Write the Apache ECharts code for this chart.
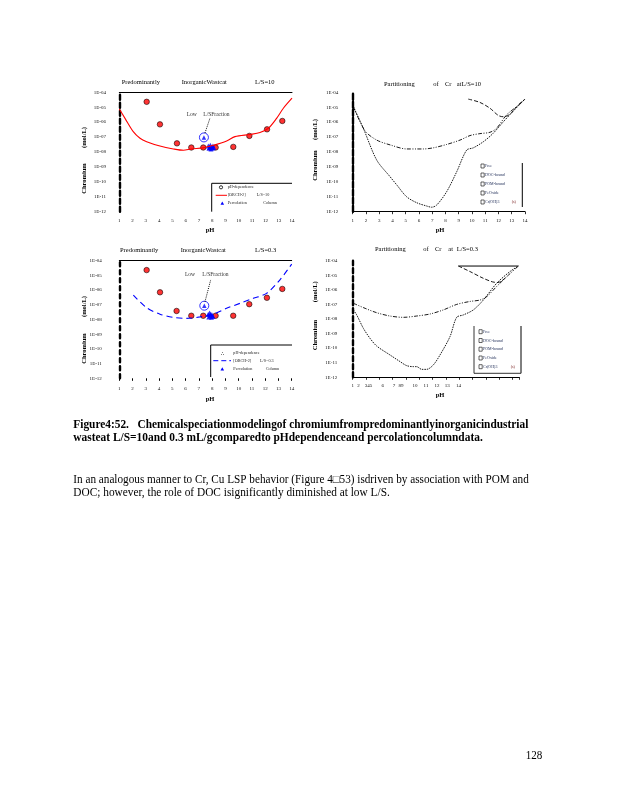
<!DOCTYPE html>
<html><head><meta charset="utf-8">
<script src="https://cdn.jsdelivr.net/npm/echarts@6/dist/echarts.min.js"></script>
<style>html,body{margin:0;padding:0;background:#fff}#c{width:618px;height:800px}</style>
</head><body><div id="c"></div>
<script>
// ---------- tick labels ----------
const xTickLabels = ['1','2','3','4','5','6','7','8','9','10','11','12','13','14'];
const yTickLabels = ['1E-04','1E-05','1E-06','1E-07','1E-08','1E-09','1E-10','1E-11','1E-12'];
const p4TickText = ['1','2','345','6','7','89','10','11','12','13','14'];
const p4TickPos  = [1, 1.43, 2.18, 3.25, 4.1, 4.63, 5.68, 6.5, 7.33, 8.1, 8.93];

// ---------- Panel 1 : L/S = 10 ----------
const p1PhDepPH = [3.06,4.06,5.34,6.42,7.32,8.25,9.58,10.79,12.12,13.27];
const p1PhDepCr = [2.3e-5,7.1e-7,3.8e-8,2.0e-8,2.0e-8,2.0e-8,2.2e-8,1.2e-7,3.3e-7,1.2e-6];
const p1ModelPH = [1.0,1.43,2.05,2.56,3.06,4.06,5.07,5.82,6.42,7.32,8.08,9.08,9.71,10.84,11.59,12.22,12.84,13.35,14.0];
const p1ModelCr = [7.6e-6,1.8e-6,2.3e-7,8.3e-8,4.9e-8,2.5e-8,1.6e-8,1.3e-8,1.6e-8,1.9e-8,2.8e-8,5.5e-8,1.07e-7,1.5e-7,2.0e-7,3.9e-7,1.8e-6,8.5e-6,4.0e-5];
const p1ColumnPH = [7.7,7.75,7.8,7.85,7.9,7.95,8.0,8.05,8.1];
const p1ColumnCr = [2.5e-8,1.8e-8,2.0e-8,2.8e-8,1.6e-8,2.2e-8,1.8e-8,2.5e-8,2.0e-8];
const p1LowLSPH = [7.37];
const p1LowLSCr = [9.5e-8];
const p1PointerPH = [7.45, 7.83];
const p1PointerCr = [1.9e-7, 1.9e-6];

// ---------- Panel 2 : partitioning L/S = 10 ----------
const p2PH_A = [1.05,1.93,2.81,3.82,5.07,5.83,6.33,7.08,8.09,9.1,9.85,10.6,11.36,11.86,12.6,13.37,14.0];
const p2Cr_A = [1.1e-5,2.6e-7,6.3e-8,3.0e-8,1.6e-8,1.6e-8,1.6e-8,1.9e-8,3.2e-8,6.3e-8,1.26e-7,1.7e-7,2.1e-7,3.9e-7,3.0e-6,1.1e-5,3.5e-5];
const p2PH_B = [1.05,1.8,2.81,3.82,4.32,5.07,5.83,6.58,6.96,7.34,8.09,8.85,9.6,10.1,10.86,11.6,12.37,13.12,14.0];
const p2Cr_B = [1.1e-5,3.9e-7,2.9e-9,2.2e-10,6.3e-11,1.0e-11,4.0e-12,2.4e-12,2.0e-12,2.8e-12,2.2e-11,4.8e-10,1.35e-8,1.9e-8,4.9e-8,1.8e-7,1.07e-6,5.6e-6,3.5e-5];
const p2PH_C = [9.72,10.6,11.36,11.99,12.37,12.87,13.37,14.0];
const p2Cr_C = [3.5e-5,2.1e-5,8.5e-6,2.8e-6,2.3e-6,3.4e-6,1.1e-5,3.5e-5];

// ---------- Panel 3 : L/S = 0.3 ----------
const p3PhDepPH = [3.06,4.07,5.32,6.43,7.33,8.26,9.59,10.8,12.13,13.29];
const p3PhDepCr = [2.3e-5,7.1e-7,3.8e-8,1.8e-8,1.8e-8,1.8e-8,1.8e-8,1.1e-7,3.0e-7,1.2e-6];
const p3ModelPH = [2.06,3.06,4.07,5.07,6.07,7.08,8.09,9.09,10.1,11.1,12.1,13.1,14.0];
const p3ModelCr = [4.6e-7,6.3e-8,2.3e-8,1.4e-8,1.2e-8,1.5e-8,2.3e-8,5.8e-8,1.26e-7,2.75e-7,6.0e-7,4.8e-6,5.9e-5];
const p3ColumnPH = [7.7,7.75,7.8,7.85,7.9,7.95,8.0,8.05];
const p3ColumnCr = [2.2e-8,1.5e-8,2.8e-8,1.8e-8,2.4e-8,1.4e-8,2.0e-8,1.6e-8];
const p3LowLSPH = [7.41];
const p3LowLSCr = [8.7e-8];
const p3PointerPH = [7.46, 7.89];
const p3PointerCr = [1.6e-7, 4.9e-6];

// ---------- Panel 4 : partitioning L/S = 0.3 ----------
const p4X_A = [1.05,1.93,2.8,3.8,4.8,5.8,6.8,7.8,8.8,9.8,10.55,11.05,11.8,12.55,13.43];
const p4Cr_A = [1.2e-7,5.4e-8,2.7e-8,1.6e-8,1.3e-8,1.6e-8,2.2e-8,4.2e-8,1.0e-7,1.6e-7,2.0e-7,3.4e-7,1.7e-6,7.9e-6,4.3e-5];
const p4X_B = [1.05,1.3,1.8,2.3,2.8,3.8,4.55,5.05,5.55,5.8,6.18,6.55,7.05,7.55,8.3,8.8,9.3,10.05,10.8,11.8,12.8,13.43];
const p4Cr_B = [4.2e-8,1.9e-8,2.3e-9,4.7e-10,1.4e-10,3.4e-11,1.2e-11,6.3e-12,5.4e-12,5.4e-12,3.5e-12,3.5e-12,7.1e-12,3.4e-11,6.2e-10,1.3e-8,1.9e-8,4.2e-8,2.0e-7,2.8e-6,1.8e-5,4.3e-5];
const p4X_C = [8.93,9.8,10.8,11.5,11.9,12.55];
const p4Cr_C = [4.3e-5,1.8e-5,6.2e-6,3.5e-6,3.2e-6,7.9e-6];
const p4X_Top = [8.93,13.43];
const p4Cr_Top = [4.3e-5,4.3e-5];

// ---------- helpers ----------
const pts = (xs, ys) => xs.map((x, i) => [x, ys[i]]);
const SERIF = '"Liberation Serif", "Times New Roman", serif';
const mctx = document.createElement('canvas').getContext('2d');
function fitScale(text, font, w) { mctx.font = font; return w / mctx.measureText(text).width; }

function T(x, y, text, size, o = {}) {
  const font = (o.weight || 'normal') + ' ' + size + 'px ' + SERIF;
  const el = {
    type: 'text', x, y, rotation: o.rot || 0, z: 50,
    style: { text, font, fill: o.color || '#000', align: o.align || 'left', verticalAlign: 'middle' }
  };
  if (o.fitW) el.scaleX = fitScale(text, font, o.fitW);
  return el;
}
function L(x1, y1, x2, y2, o = {}) {
  return { type: 'line', z: 50, shape: { x1, y1, x2, y2 },
    style: { stroke: o.color || '#000', lineWidth: o.w || 1, lineDash: o.dash || null } };
}
function tri(cx, cy, s, color) {
  return { type: 'polygon', z: 50, shape: { points: [[cx, cy - s], [cx - s, cy + s * 0.8], [cx + s, cy + s * 0.8]] },
    style: { fill: color } };
}
function box(x, y, w, h) {
  return { type: 'rect', z: 50, shape: { x, y, width: w, height: h }, style: { fill: '#fff', stroke: '#000', lineWidth: 0.6 } };
}

const yFmt = v => yTickLabels[-Math.round(Math.log10(v)) - 4] || '';
const tickFont = { fontSize: 5, fontFamily: SERIF, color: '#111' };

function yAx(g, margin, lineType) {
  return { gridIndex: g, type: 'log', logBase: 10, min: 1e-12, max: 1e-4, splitNumber: 8,
    axisLine: { show: true, lineStyle: { color: '#000', width: 2.4, type: lineType } },
    axisTick: { show: false }, splitLine: { show: false },
    axisLabel: Object.assign({ margin, formatter: yFmt }, tickFont) };
}
const xFmt = v => xTickLabels[Math.round(v) - 1] || '';

const option = {
  backgroundColor: '#fff',
  animation: false,
  grid: [
    { left: 119.3, top: 92.3, width: 172.7, height: 119.4 },
    { left: 352.7, top: 92.3, width: 172.3, height: 119.4 },
    { left: 119.3, top: 260.7, width: 172.4, height: 117.6 },
    { left: 352.7, top: 260.7, width: 166.6, height: 116.6 }
  ],
  xAxis: [
    { gridIndex: 0, type: 'value', min: 1, max: 14, interval: 1, position: 'bottom',
      axisLine: { show: false }, axisTick: { show: false }, splitLine: { show: false },
      axisLabel: Object.assign({ margin: 6.5, formatter: xFmt }, tickFont) },
    { gridIndex: 0, type: 'value', min: 1, max: 14, position: 'top',
      axisLine: { show: true, onZero: false, lineStyle: { color: '#000', width: 1 } },
      axisTick: { show: false }, axisLabel: { show: false }, splitLine: { show: false } },
    { gridIndex: 1, type: 'value', min: 1, max: 14, interval: 1, position: 'bottom',
      axisLine: { show: true, onZero: false, lineStyle: { color: '#000', width: 1 } },
      axisTick: { show: true, length: 2.5, lineStyle: { color: '#000', width: 0.8 } }, splitLine: { show: false },
      axisLabel: Object.assign({ margin: 6, formatter: xFmt }, tickFont) },
    { gridIndex: 2, type: 'value', min: 1, max: 14, interval: 1, position: 'bottom',
      axisLine: { show: false, onZero: false }, axisTick: { show: true, length: 2.5, lineStyle: { color: '#000', width: 1 } },
      splitLine: { show: false },
      axisLabel: Object.assign({ margin: 8, formatter: xFmt }, tickFont) },
    { gridIndex: 2, type: 'value', min: 1, max: 14, position: 'top',
      axisLine: { show: true, onZero: false, lineStyle: { color: '#000', width: 1 } },
      axisTick: { show: false }, axisLabel: { show: false }, splitLine: { show: false } },
    { gridIndex: 3, type: 'value', min: 1, max: 13.5, interval: 1, position: 'bottom',
      axisLine: { show: true, onZero: false, lineStyle: { color: '#000', width: 1 } },
      axisTick: { show: true, length: 2.5, lineStyle: { color: '#000', width: 0.8 } }, splitLine: { show: false },
      axisLabel: Object.assign({ margin: 6, customValues: p4TickPos,
        formatter: v => { const i = p4TickPos.findIndex(p => Math.abs(p - v) < 1e-6); return i >= 0 ? p4TickText[i] : ''; } }, tickFont) }
  ],
  yAxis: [ yAx(0, 13.3, [5, 3]), yAx(1, 14.4, [6, 2]), yAx(2, 17.5, [4, 4]), yAx(3, 15.4, [5, 3]) ],
  series: [
    // Panel 1
    { type: 'line', name: '[ORCH-2] L/S=10', xAxisIndex: 0, yAxisIndex: 0, data: pts(p1ModelPH, p1ModelCr),
      showSymbol: false, smooth: 0.3, lineStyle: { color: '#ff0000', width: 1.1 } },
    { type: 'line', xAxisIndex: 0, yAxisIndex: 0, data: pts(p1PointerPH, p1PointerCr),
      showSymbol: false, lineStyle: { color: '#000', width: 1, type: [1, 1.2] } },
    { type: 'scatter', name: 'pH-dependence', xAxisIndex: 0, yAxisIndex: 0, data: pts(p1PhDepPH, p1PhDepCr),
      symbol: 'circle', symbolSize: 5.5, itemStyle: { color: '#ff0000', borderColor: '#000', borderWidth: 0.7 } },
    { type: 'scatter', name: 'Percolation Column', xAxisIndex: 0, yAxisIndex: 0, data: pts(p1ColumnPH, p1ColumnCr),
      symbol: 'triangle', symbolSize: 5, itemStyle: { color: '#0000ff' } },
    { type: 'scatter', xAxisIndex: 0, yAxisIndex: 0, data: pts(p1LowLSPH, p1LowLSCr),
      symbol: 'circle', symbolSize: 9, itemStyle: { color: 'rgba(255,255,255,0)', borderColor: '#0000ff', borderWidth: 1 } },
    { type: 'scatter', xAxisIndex: 0, yAxisIndex: 0, data: pts(p1LowLSPH, p1LowLSCr),
      symbol: 'triangle', symbolSize: 4.5, itemStyle: { color: '#0000ff' } },
    // Panel 2
    { type: 'line', name: 'DOC-bound', xAxisIndex: 2, yAxisIndex: 1, data: pts(p2PH_A, p2Cr_A),
      showSymbol: false, smooth: 0.3, lineStyle: { color: '#000', width: 0.9, type: [4, 1.5, 1, 1.5, 1, 1.5] } },
    { type: 'line', name: 'Free', xAxisIndex: 2, yAxisIndex: 1, data: pts(p2PH_B, p2Cr_B),
      showSymbol: false, smooth: 0.3, lineStyle: { color: '#000', width: 0.9, type: [1.5, 1] } },
    { type: 'line', name: 'POM-bound', xAxisIndex: 2, yAxisIndex: 1, data: pts(p2PH_C, p2Cr_C),
      showSymbol: false, smooth: 0.3, lineStyle: { color: '#000', width: 0.9, type: [4, 2] } },
    // Panel 3
    { type: 'line', name: '[ORCH-2] L/S=0.3', xAxisIndex: 3, yAxisIndex: 2, data: pts(p3ModelPH, p3ModelCr),
      showSymbol: false, smooth: 0.3, lineStyle: { color: '#0000ff', width: 1.1, type: [6, 4] } },
    { type: 'line', xAxisIndex: 3, yAxisIndex: 2, data: pts(p3PointerPH, p3PointerCr),
      showSymbol: false, lineStyle: { color: '#000', width: 1, type: [1, 1.2] } },
    { type: 'scatter', name: 'pH-dependence', xAxisIndex: 3, yAxisIndex: 2, data: pts(p3PhDepPH, p3PhDepCr),
      symbol: 'circle', symbolSize: 5.5, itemStyle: { color: '#ff0000', borderColor: '#000', borderWidth: 0.7 } },
    { type: 'scatter', name: 'Percolation Column', xAxisIndex: 3, yAxisIndex: 2, data: pts(p3ColumnPH, p3ColumnCr),
      symbol: 'triangle', symbolSize: 5, itemStyle: { color: '#0000ff' } },
    { type: 'scatter', xAxisIndex: 3, yAxisIndex: 2, data: pts(p3LowLSPH, p3LowLSCr),
      symbol: 'circle', symbolSize: 9, itemStyle: { color: 'rgba(255,255,255,0)', borderColor: '#0000ff', borderWidth: 1 } },
    { type: 'scatter', xAxisIndex: 3, yAxisIndex: 2, data: pts(p3LowLSPH, p3LowLSCr),
      symbol: 'triangle', symbolSize: 4.5, itemStyle: { color: '#0000ff' } },
    // Panel 4
    { type: 'line', name: 'DOC-bound', xAxisIndex: 5, yAxisIndex: 3, data: pts(p4X_A, p4Cr_A),
      showSymbol: false, smooth: 0.3, lineStyle: { color: '#000', width: 0.9, type: [4, 1.5, 1, 1.5, 1, 1.5] } },
    { type: 'line', name: 'Free', xAxisIndex: 5, yAxisIndex: 3, data: pts(p4X_B, p4Cr_B),
      showSymbol: false, smooth: 0.3, lineStyle: { color: '#000', width: 0.9, type: [1.5, 1] } },
    { type: 'line', name: 'POM-bound', xAxisIndex: 5, yAxisIndex: 3, data: pts(p4X_C, p4Cr_C),
      showSymbol: false, smooth: 0.3, lineStyle: { color: '#000', width: 0.9, type: [4, 2] } },
    { type: 'line', name: 'Cr(OH)3 (s)', xAxisIndex: 5, yAxisIndex: 3, data: pts(p4X_Top, p4Cr_Top),
      showSymbol: false, lineStyle: { color: '#000', width: 1 } }
  ],
  graphic: { elements: [] }
};

const G = option.graphic.elements;
const tS = 6.5;
// Titles
G.push(T(121.7, 82, 'Predominantly', tS), T(181.7, 82, 'InorganicWastcat', tS), T(255, 82, 'L/S=10', tS));
G.push(T(384, 84, 'Partitioning', tS), T(433.3, 84, 'of', tS), T(445, 84, 'Cr', tS), T(456.7, 84, 'atL/S=10', tS));
G.push(T(120, 250, 'Predominantly', tS), T(180.7, 250, 'InorganicWastcat', tS), T(255, 250, 'L/S=0.3', tS));
G.push(T(375, 249, 'Partitioning', tS), T(423.3, 249, 'of', tS), T(435, 249, 'Cr', tS), T(448.3, 249, 'at', tS), T(456.7, 249, 'L/S=0.3', tS));
// Axis names
const R = Math.PI / 2;
[[84, 137.5, 84, 178.5], [315, 129.5, 315, 165.5], [84, 306.5, 84, 348.5], [315, 291.7, 315, 335]].forEach(a => {
  G.push(T(a[0], a[1], '(mol/L)', 6.5, { weight: 'bold', rot: R, align: 'center' }));
  G.push(T(a[2], a[3], 'Chromium', 6.5, { weight: 'bold', rot: R, align: 'center' }));
});
[[210, 230], [440, 230], [210, 399], [440, 395]].forEach(a => G.push(T(a[0], a[1], 'pH', 6.5, { weight: 'bold', align: 'center' })));
// Low L/S annotations
G.push(T(186.7, 114.3, 'Low', 5.5, { color: '#333' }), T(203.3, 114.3, 'L/SFraction', 5.5, { color: '#333' }));
G.push(T(185, 275, 'Low', 5.5, { color: '#333' }), T(202.3, 275, 'L/SFraction', 5.5, { color: '#333' }));

// Legend panel 1
const lS = 4.2, lc = '#222';
G.push(L(211.7, 183.3, 292, 183.3), L(211.7, 183.3, 211.7, 211.7));
G.push({ type: 'circle', z: 50, shape: { cx: 221, cy: 187.3, r: 1.6 }, style: { fill: 'none', stroke: '#000', lineWidth: 0.8 } });
G.push(T(227.7, 187.3, 'pH-dependence', lS, { color: lc }));
G.push(L(215.7, 195.3, 227, 195.3, { color: '#ff0000', w: 1 }));
G.push(T(227.7, 195.3, '[ORCH-2]', lS, { color: lc }), T(256.7, 195.3, 'L/S=10', lS, { color: lc }));
G.push(tri(222.3, 203.3, 1.8, '#0000ff'));
G.push(T(227.7, 203.3, 'Percolation', lS, { color: lc }), T(263.3, 203.3, 'Column', lS, { color: lc }));

// Legend panel 3
G.push(L(210.7, 345, 292, 345), L(210.7, 345, 210.7, 377));
G.push(T(222.3, 353.3, '∴', 5, { align: 'center' }));
G.push(T(233.3, 353.3, 'pH-dependence', lS, { color: lc }));
G.push(L(213.3, 360.7, 231, 360.7, { color: '#0000ff', w: 1, dash: [5, 3] }));
G.push(T(233.3, 360.7, '[ORCH-2]', lS, { color: lc }), T(260, 360.7, 'L/S=0.3', lS, { color: lc }));
G.push(tri(222.3, 369, 1.8, '#0000ff'));
G.push(T(233.3, 369, 'Percolation', lS, { color: lc }), T(265.7, 369, 'Column', lS, { color: lc }));

// Legend panel 2
const legNames = ['Free', 'DOC-bound', 'POM-bound', 'FeOxide', 'Cr(OH)3'];
const lc2 = '#23305a';
[166, 175, 184, 193, 202].forEach((y, i) => {
  G.push(box(481, y - 2, 3.2, 4));
  G.push(T(485, y, legNames[i], 4, { color: lc2 }));
});
G.push(T(511.7, 202, '(s)', 4, { color: '#7a2020' }));
G.push(L(522.3, 163, 522.3, 207, { w: 1 }));

// Legend panel 4
G.push(L(474, 326, 474, 373.3, { w: 0.8 }), L(521, 326, 521, 373.3, { w: 1 }), L(474, 373.3, 521, 373.3, { w: 0.8 }));
[331.7, 340.5, 349.2, 358, 366.7].forEach((y, i) => {
  G.push(box(479, y - 2, 3.2, 4));
  G.push(T(483, y, legNames[i], 4, { color: lc2 }));
});
G.push(T(510.7, 366.7, '(s)', 4, { color: '#7a2020' }));

// Caption + paragraph + page number
const capF = 11.5;
const cap1 = 'Figure4:52.   Chemicalspeciationmodelingof chromiumfrompredominantlyinorganicindustrial';
const cap2 = 'wasteat L/S=10and 0.3 mL/gcomparedto pHdependenceand percolationcolumndata.';
G.push(T(73.3, 425, cap1, capF, { weight: 'bold', fitW: 455 }));
G.push(T(73.3, 438, cap2, capF, { weight: 'bold', fitW: 409.5 }));
const par1 = 'In an analogous manner to Cr, Cu LSP behavior (Figure 4\u25A153) isdriven by association with POM and';
const par2 = 'DOC; however, the role of DOC isignificantly diminished at low L/S.';
G.push(T(73.3, 479.5, par1, 11.5, { fitW: 455.5 }));
G.push(T(73.3, 492.5, par2, 11.5, { fitW: 316.5 }));
G.push(T(525.7, 756, '128', 11.5, { fitW: 16.6 }));

const chart = echarts.init(document.getElementById('c'), null, { renderer: 'canvas', width: 618, height: 800 });
chart.setOption(option);
</script>
</body></html>
